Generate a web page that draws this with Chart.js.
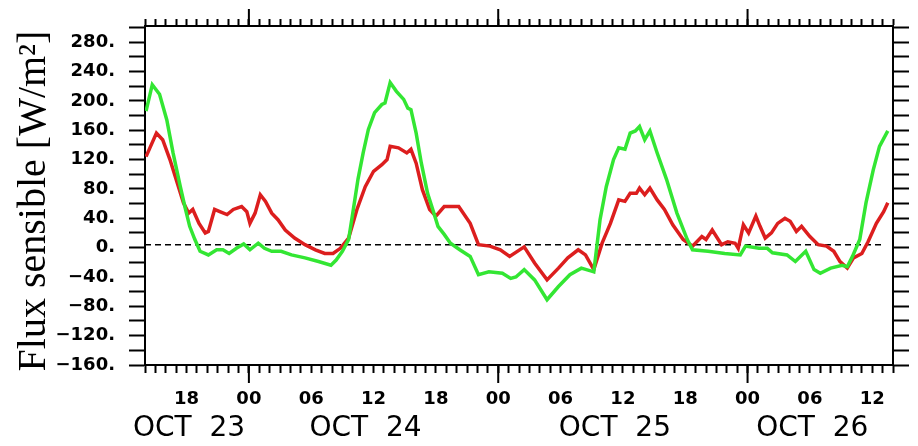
<!DOCTYPE html>
<html>
<head>
<meta charset="utf-8">
<script src="https://cdn.jsdelivr.net/npm/chart.js@4/dist/chart.umd.min.js"></script>
<style>
html, body { margin: 0; padding: 0; background: #fff; }
#wrap { width: 918px; height: 446px; }
</style>
</head>
<body>
<div id="wrap"><canvas id="flux"></canvas></div>
<script>
// hours counted from OCT 23 00:00
var redHours = [14.1, 15.1, 15.7, 16.4, 17, 17.7, 18.2, 18.6, 19.2, 19.8, 20.1, 20.7, 21.2, 21.9, 22.5, 23.3, 23.8, 24.1, 24.6, 25.1, 25.6, 26.2, 26.8, 27.5, 28.4, 29.4, 30.4, 31.3, 32.1, 32.8, 33.6, 34.4, 35.2, 36, 36.8, 37.3, 37.6, 38.4, 39.2, 39.6, 40.1, 40.7, 41.4, 42, 42.8, 44.2, 45.3, 46.1, 47.2, 48.2, 49.1, 50.5, 51.5, 52.7, 53.8, 54.7, 55.7, 56.4, 57.2, 58, 58.8, 59.6, 60.2, 60.7, 61.3, 61.6, 62.1, 62.6, 63.3, 64, 64.8, 65.8, 66.7, 67.6, 68, 68.6, 69.5, 70.1, 70.8, 71.1, 71.6, 72.1, 72.8, 73.2, 73.7, 74.3, 74.9, 75.6, 76.1, 76.7, 77.2, 78, 78.8, 79.6, 80.3, 80.9, 81.6, 82.2, 83, 83.6, 84.4, 85.1, 85.5]
var redFlux = [124, 156, 147, 120, 93, 61, 47, 52, 33, 20, 22, 52, 49, 45, 52, 56, 49, 33, 47, 72, 63, 47, 38, 24, 13, 4, -3, -8, -8, -1, 13, 52, 83, 104, 113, 120, 138, 136, 129, 134, 115, 79, 52, 43, 56, 56, 33, 4, 2, -3, -12, 1, -21, -44, -28, -14, -3, -10, -30, 6, 33, 65, 63, 74, 74, 81, 72, 81, 65, 52, 31, 11, 2, 15, 11, 24, 4, 8, 6, -1, 31, 20, 43, 29, 13, 20, 33, 40, 36, 22, 29, 15, 4, 2, -5, -19, -28, -14, -8, 8, 33, 49, 61]

var greenHours = [14.1, 14.7, 15.4, 16.1, 16.7, 17.4, 17.9, 18.3, 18.8, 19.3, 20.1, 20.9, 21.5, 22.1, 22.8, 23.5, 24.1, 24.9, 25.5, 26.2, 27.1, 28.1, 29.4, 30.7, 31.9, 32.4, 33, 33.6, 34, 34.5, 35, 35.5, 36.1, 36.8, 37.1, 37.6, 38.2, 38.9, 39.3, 39.6, 40.1, 40.6, 41.2, 41.7, 42.2, 42.8, 43.4, 44.3, 45.3, 46.1, 47.1, 48.4, 49.2, 49.7, 50.5, 51.5, 52.7, 53.8, 54.9, 56, 57.2, 57.8, 58.4, 59.1, 59.6, 60.2, 60.7, 61.2, 61.6, 62.1, 62.6, 63.3, 64.2, 65.2, 66.2, 66.7, 68.2, 69.8, 71.3, 71.8, 73.1, 73.9, 74.4, 75.8, 76.6, 77.6, 78.4, 79, 80, 81.1, 81.6, 82.1, 82.8, 83.4, 84.1, 84.7, 85.5]
var greenFlux = [186, 222, 209, 174, 129, 83, 52, 29, 11, -5, -10, -3, -3, -8, -1, 5, -3, 6, -1, -5, -5, -10, -14, -19, -24, -17, -5, 11, 47, 93, 129, 161, 184, 195, 197, 225, 213, 202, 190, 188, 156, 115, 74, 52, 29, 18, 6, -3, -12, -37, -33, -35, -42, -40, -30, -44, -71, -53, -37, -28, -33, 38, 83, 120, 136, 134, 156, 159, 165, 147, 159, 129, 93, 47, 11, -3, -5, -8, -10, 2, -1, -1, -7, -10, -19, -5, -30, -35, -28, -24, -26, -12, 11, 61, 106, 138, 159]

var refHours = [14, 84.9]
var refFlux = [4, 4]

var dayLabels = ['OCT  23', 'OCT  24', 'OCT  25', 'OCT  26']
var dayStart = [0, 24, 48, 72]

function pts(xs, ys) {
    return xs.map(function (x, i) { return { x: x, y: ys[i] } })
}

function pad2(n) {
    return (n < 10 ? '0' : '') + n
}

var tickFont = { family: 'DejaVu Sans', size: 18, weight: 'bold' }

// long day ticks, y title and the date row under the hour labels
var dayPlugin = {
    id: 'dayPlugin',
    afterDraw: function (chart) {
        var ctx = chart.ctx
        var xs = chart.scales.x
        var area = chart.chartArea
        ctx.save()
        ctx.strokeStyle = '#000'
        ctx.lineWidth = 2
        dayStart.forEach(function (d, i) {
            if (d > xs.min && d < xs.max) {
                var px = xs.getPixelForValue(d)
                ctx.beginPath()
                ctx.moveTo(px, area.bottom)
                ctx.lineTo(px, area.bottom + 18)
                ctx.moveTo(px, area.top)
                ctx.lineTo(px, area.top - 17)
                ctx.stroke()
            }
            var a = Math.max(d, xs.min)
            var b = Math.min(d + 24, xs.max)
            var mid = (xs.getPixelForValue(a) + xs.getPixelForValue(b)) / 2 - 8
            ctx.fillStyle = '#000'
            ctx.font = '28px "DejaVu Sans"'
            ctx.textAlign = 'center'
            ctx.textBaseline = 'middle'
            ctx.fillText(dayLabels[i], mid, 429)
        })

        ctx.translate(45, 201)
        ctx.rotate(-Math.PI / 2)
        ctx.font = '40px "Liberation Serif"'
        ctx.textAlign = 'center'
        ctx.textBaseline = 'alphabetic'
        ctx.fillText('Flux sensible [W/m²]', 0, 0)
        ctx.restore()
    }
}

var chart = new Chart(
    document.getElementById('flux'),
    {
        type: 'line',
        data: {
            datasets: [
                {
                    label: 'green',
                    data: pts(greenHours, greenFlux),
                    borderColor: '#33e633',
                    borderWidth: 3.5,
                    pointRadius: 0,
                    tension: 0,
                },
                {
                    label: 'red',
                    data: pts(redHours, redFlux),
                    borderColor: '#dc1e1e',
                    borderWidth: 3.5,
                    pointRadius: 0,
                    tension: 0,
                },
                {
                    label: 'zero',
                    data: pts(refHours, refFlux),
                    borderColor: '#000',
                    borderWidth: 1.5,
                    borderDash: [6, 4],
                    pointRadius: 0,
                },
            ]
        },
        options: {
            responsive: true,
            maintainAspectRatio: false,
            animation: false,
            layout: { padding: { left: 0, right: 0, top: 16, bottom: 0 } },
            plugins: {
                legend: { display: false },
                tooltip: { enabled: false },
            },
            scales: {
                x: {
                    type: 'linear',
                    position: 'bottom',
                    min: 14,
                    max: 86,
                    afterFit: function (s) { s.height = 81 },
                    border: { color: '#000', width: 2 },
                    grid: { drawOnChartArea: false, tickLength: 8, tickWidth: 2, tickColor: '#000' },
                    ticks: {
                        stepSize: 1,
                        autoSkip: false,
                        maxRotation: 0,
                        maxTicksLimit: 200,
                        padding: 16,
                        color: '#000',
                        font: { family: 'DejaVu Sans', size: 18, weight: '600' },
                        callback: function (v) { return v % 6 === 0 ? pad2(v % 24) : '' },
                    },
                },
                x2: {
                    type: 'linear',
                    position: 'top',
                    min: 14,
                    max: 86,
                    afterFit: function (s) { s.height = 10 },
                    border: { color: '#000', width: 2 },
                    grid: { drawOnChartArea: false, tickLength: 7, tickWidth: 2, tickColor: '#000' },
                    ticks: { display: false, stepSize: 1, autoSkip: false, maxTicksLimit: 200 },
                },
                y: {
                    position: 'left',
                    min: -160,
                    max: 302,
                    afterFit: function (s) { s.width = 145 },
                    border: { color: '#000', width: 2 },
                    grid: { drawOnChartArea: false, tickLength: 16, tickWidth: 2, tickColor: '#000' },
                    ticks: {
                        stepSize: 20,
                        includeBounds: false,
                        autoSkip: false,
                        padding: 14,
                        color: '#000',
                        font: tickFont,
                        callback: function (v) {
                            if (v % 40 !== 0) return ''
                            return (v < 0 ? '\u2212' + (-v) : v) + '.'
                        },
                    },
                },
                y2: {
                    position: 'right',
                    min: -160,
                    max: 302,
                    afterFit: function (s) { s.width = 25 },
                    border: { color: '#000', width: 2 },
                    grid: { drawOnChartArea: false, tickLength: 16, tickWidth: 2, tickColor: '#000' },
                    ticks: { display: false, stepSize: 20, includeBounds: false },
                },
            }
        },
        plugins: [dayPlugin]
    }
);
</script>
</body>
</html>
